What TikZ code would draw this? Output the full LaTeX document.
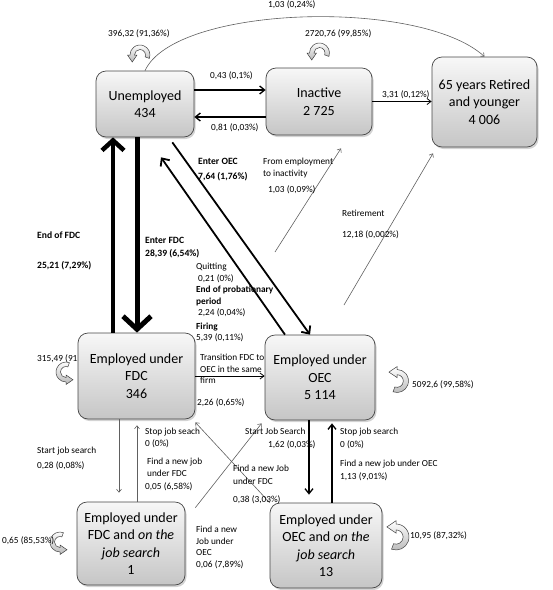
\documentclass[tikz,border=0pt]{standalone}
\usepackage{fontspec}
\setmainfont{Carlito}
\usetikzlibrary{arrows.meta,shadows}

\begin{document}
\begin{tikzpicture}[x=1pt,y=-1pt,
  state/.style={draw=gray!55!black, line width=0.7pt, rounded corners=10pt,
    top color=gray!6, bottom color=gray!45, align=center, inner sep=2pt,
    drop shadow={shadow xshift=1.5pt,shadow yshift=-2pt,opacity=0.35},
    font=\fontsize{14}{17.5}\selectfont},
  lbl/.style={font=\fontsize{9.3}{11.5}\selectfont, inner sep=0pt, anchor=north west, align=left},
  boldlbl/.style={lbl, font=\fontsize{9.6}{11.5}\selectfont\bfseries},
  greylink/.style={draw=gray!75!black, line width=0.6pt, -{Straight Barb[length=3pt,width=5pt]}},
  blacklink/.style={line width=1.3pt, -{Straight Barb[length=5pt,width=8pt]}},
  finelink/.style={line width=0.8pt, -{Straight Barb[length=4pt,width=6pt]}},
  midlink/.style={line width=1.8pt, -{Straight Barb[length=6pt,width=11pt]}},
  loopy/.pic={\draw[draw=gray!50!black, line width=0.5pt, top color=white, bottom color=gray!55]
    (20:10) arc[start angle=20,end angle=-180,radius=10] -- (-12.5,0) -- (-7.75,7)
    -- (-3,0) -- (-5.5,0) arc[start angle=-180,end angle=20,radius=5.5] -- cycle;}]
\useasboundingbox (0,0) rectangle (553,590);

% this label is partly hidden by the box
\node[lbl] (lfdcloop) at (37,354) {315,49 (91,18\%)};

% the states
\node[state, minimum width=98pt, minimum height=66pt] (unemp) at (145,104) {Unemployed\\434};
\node[state, minimum width=106pt, minimum height=67pt] (inact) at (319,101.5) {Inactive\\2 725};
\node[state, minimum width=105pt, minimum height=90pt] (ret) at (484.5,102) {65 years Retired\\and younger\\4 006};
\node[state, minimum width=117pt, minimum height=86pt] (fdc) at (136.5,376) {Employed under\\FDC\\346};
\node[state, minimum width=110pt, minimum height=85pt] (oec) at (320,377.5) {Employed under\\OEC\\5 114};
\node[state, minimum width=108pt, minimum height=83pt] (fdcs) at (131,543.5) {Employed under\\FDC and \textit{on the}\\\textit{job search}\\1};
\node[state, minimum width=112pt, minimum height=85pt] (oecs) at (326,545.5) {Employed under\\OEC and \textit{on the}\\\textit{job search}\\13};

% top row
\draw[greylink] (unemp.north) .. controls (175,5) and (420,-2) .. (ret.north);
\draw[blacklink] ([yshift=14pt]unemp.east) -- ([yshift=14pt]unemp.east -| inact.west);
\draw[blacklink] ([yshift=-13pt]unemp.east -| inact.west) -- ([yshift=-13pt]unemp.east);
\draw[finelink] (inact.east) -- (inact.east -| ret.west);

% staying in the same state
\pic at (140,55) {loopy};
\pic at (319.5,53) {loopy};
\pic[rotate=90] at (66,372) {loopy};
\pic[rotate=-90, scale=1.15] at (397,381) {loopy};
\pic[rotate=90] at (60,542) {loopy};
\pic[rotate=-90, scale=1.3] at (396,537) {loopy};

% FDC in and out
\draw[line width=4.5pt, -{Straight Barb[length=10pt,width=22pt]}] ([xshift=-23.5pt]fdc.north) -- ([xshift=-23.5pt]fdc.north |- unemp.south);
\draw[line width=5pt, -{Straight Barb[length=13pt,width=28pt]}] ([xshift=-8pt]unemp.south) -- ([xshift=-8pt]unemp.south |- fdc.north);

% OEC in and out
\draw[midlink] ([shift={(-22pt,-5pt)}]unemp.south east) -- ([xshift=-10pt]oec.north);
\draw[midlink] ([xshift=-35pt]oec.north) -- ([shift={(16pt,-20pt)}]unemp.south);

% leaving employment
\coordinate (empout) at (275,252);
\coordinate (retout) at (344,305);
\draw[greylink] (empout) -- ([shift={(22pt,-13pt)}]inact.south);
\draw[greylink] (retout) -- ([shift={(-51.5pt,-6pt)}]ret.south);
\draw[finelink] (fdc.east) -- (fdc.east -| oec.west);

% job search
\draw[greylink, shorten >=9pt] ([xshift=-17.5pt]fdc.south) -- ([xshift=-17.5pt]fdc.south |- fdcs.north);
\draw[greylink, shorten >=6pt] ([xshift=6pt]fdcs.north) -- ([xshift=6pt]fdcs.north |- fdc.south);
\draw[greylink] ([shift={(10pt,-6pt)}]fdcs.north east) -- ([shift={(-3pt,-3pt)}]oec.south west);
\draw[greylink] (oecs.north west) -- ([yshift=-3pt]fdc.south east);
\draw[blacklink, shorten >=8pt] ([xshift=-11pt]oec.south) -- ([xshift=-11pt]oec.south |- oecs.north);
\draw[blacklink, shorten >=3pt] ([xshift=6pt]oecs.north) -- ([xshift=6pt]oecs.north |- oec.south);

% labels
\node[lbl] (lretarc) at (268,0) {1,03 (0,24\%)};
\node[lbl] (lunemploop) at (108,29) {396,32 (91,36\%)};
\node[lbl] (linactloop) at (305,29) {2720,76 (99,85\%)};
\node[lbl] (lui) at (210,71) {0,43 (0,1\%)};
\node[lbl] (liu) at (211,123) {0,81 (0,03\%)};
\node[lbl] (lir) at (382,90) {3,31 (0,12\%)};
\node[boldlbl] (lendfdc) at (37,232) {End of FDC\\[18pt]25,21 (7,29\%)};
\node[boldlbl] (lenterfdc) at (145,237) {Enter FDC\\[1.5pt]28,39 (6,54\%)};
\node[boldlbl] (lenteroec) at (198,158) {Enter OEC\\[3.5pt]7,64 (1,76\%)};
\node[lbl] (lquit) at (196,263) {Quitting\\\hspace*{2pt}0,21 (0\%)\\\textbf{End of probationary}\\\textbf{period}\\\hspace*{2pt}2,24 (0,04\%)\\[2pt]\textbf{Firing}\\5,39 (0,11\%)};
\node[lbl] (lempinact) at (263,158) {From employment\\to inactivity\\[5pt]\hspace*{5pt}1,03 (0,09\%)};
\node[lbl] (lretire) at (342,210) {Retirement\\[9.5pt]12,18 (0,002\%)};
\node[lbl] (ltrans) at (200,354) {Transition FDC to\\OEC in the same\\firm};
\node[lbl] (lfo) at (197,398) {2,26 (0,65\%)};
\node[lbl] (loecloop) at (412,380) {5092,6 (99,58\%)};
\node[lbl] (lstartfdc) at (37,447) {Start job search\\[3.5pt]0,28 (0,08\%)};
\node[lbl] (lstopfdc) at (145,428) {Stop job seach\\0 (0\%)\\[7pt]\hspace*{2pt}Find a new job\\\hspace*{2pt}under FDC\\[2pt]0,05 (6,58\%)};
\node[lbl] (lstartoec) at (245,428) {Start Job Search\\[1.5pt]\hspace*{23pt}1,62 (0,03\%)};
\node[lbl] (lstopoec) at (340,428) {Stop job search\\[1.5pt]0 (0\%)\\[7pt]Find a new job under OEC\\[2pt]1,13 (9,01\%)};
\node[lbl] (lfindfdc) at (233,465) {Find a new Job\\[1.5pt]under FDC\\[6pt]0,38 (3,03\%)};
\node[lbl] (lfindoec) at (196,526) {Find a new\\Job under\\OEC\\0,06 (7,89\%)};
\node[lbl] (lfdcsloop) at (2,536) {0,65 (85,53\%)};
\node[lbl] (loecsloop) at (410,531) {10,95 (87,32\%)};
\end{tikzpicture}
\end{document}
